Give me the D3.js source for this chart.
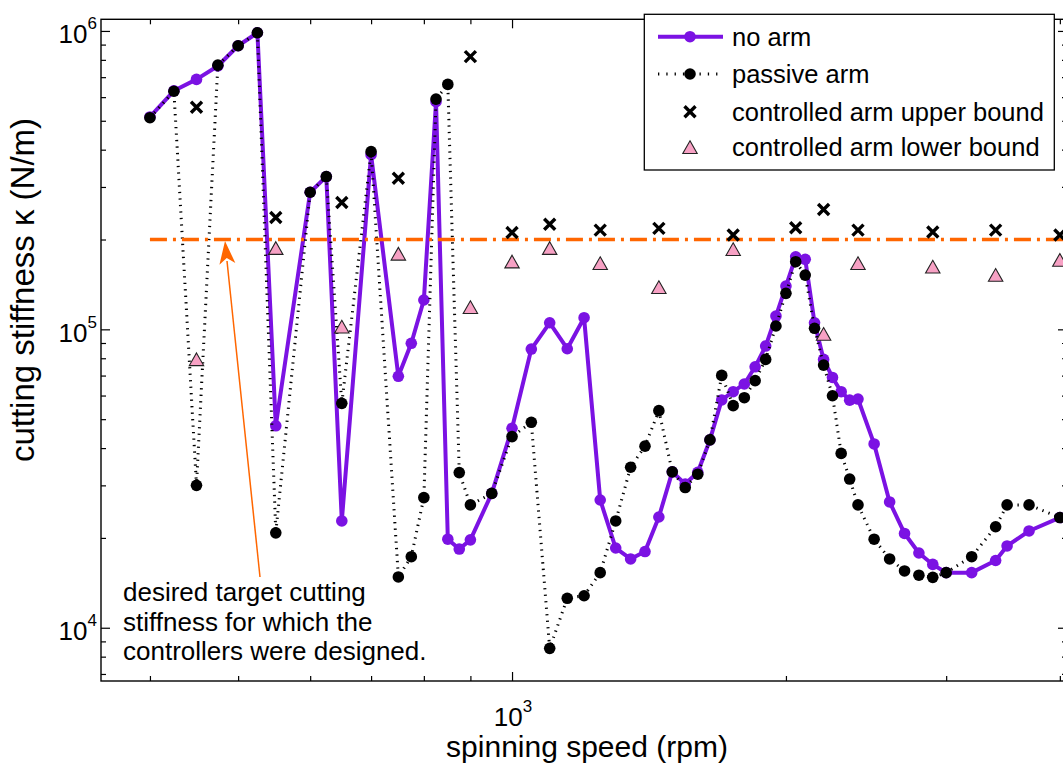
<!DOCTYPE html>
<html><head><meta charset="utf-8">
<script src="https://cdn.jsdelivr.net/npm/d3@7/dist/d3.min.js"></script>
<style>
body{margin:0;background:#fff}
svg{display:block}
text{font-family:"Liberation Sans",Arial,Helvetica,sans-serif;fill:#000}
</style>
</head><body>
<svg id="chart" width="1063" height="763"></svg>
<script>
// ---------------- data ----------------
const speeds = [400,425,450,475,500,525,550,600,625,650,700,750,775,800,825,850,875,900,950,
  1000,1050,1100,1150,1200,1250,1300,1350,1400,1450,1500,1550,1600,1650,1700,1750,1800,1850,1900,1950,
  2000,2050,2100,2150,2200,2250,2300,2350,2400,2500,2600,2700,2800,2900,3000,3200,3400,3500,3700,4000];
const noArm = [515000,630000,688000,763000,892000,986000,47500,288000,325000,22800,385000,69600,89800,125400,579000,19800,18350,19700,28200,
  46600,85900,105200,86100,109400,26800,18500,17000,18000,23500,33300,30300,33200,42600,58000,61800,65600,74900,87900,110800,
  139700,175000,171700,105200,79300,69000,61800,57900,58400,41300,26400,20700,17800,16300,15300,15300,16800,18800,21100,23400];
const passiveArm = [512000,628000,30000,768000,892000,986000,20800,288000,325000,56500,394000,14800,17300,27300,591000,662000,33100,25800,28200,
  43700,48800,8530,12550,12800,15300,22800,34500,40600,53400,33300,29500,32700,42600,70100,55500,59000,67300,79300,102600,
  132000,168500,152000,100800,75900,59900,38400,31500,25800,19800,17000,15500,15000,14750,15300,17300,21800,25800,25800,23400];
const upperSpeeds = [450,550,650,750,900,1000,1100,1250,1450,1750,2050,2200,2400,2900,3400,4000];
const upperBound = [555000,237000,266000,321000,820000,211000,225000,215000,218000,207000,219000,252000,215000,212000,215000,207000];
const lowerSpeeds = [450,550,650,750,900,1000,1100,1250,1450,1750,2200,2400,2900,3400,4000];
const lowerBound = [79300,187000,102000,179000,118500,168500,187000,166400,138300,185400,96400,166400,162100,152000,170700];
const targetStiffness = 200000;
const targetSpan = [400, 4073];
const xDomain = [353.4, 4073];
const yDomain = [6630, 1.094e6];
const xMajorTicks = [1000];
const xMinorTicks = [400,500,600,700,800,900,2000,3000,4000];
const yMajorTicks = [1e4,1e5,1e6];
const yMinorTicks = [7000,8000,9000,2e4,3e4,4e4,5e4,6e4,7e4,8e4,9e4,2e5,3e5,4e5,5e5,6e5,7e5,8e5,9e5];
const xTickBase = ["10"], xTickExp = ["3"];
const yTickBase = ["10","10","10"], yTickExp = ["4","5","6"];
const legendLabels = ["no arm","passive arm","controlled arm upper bound","controlled arm lower bound"];
const annotationLines = ["desired target cutting","stiffness for which the","controllers were designed."];
const xLabel = "spinning speed (rpm)";
const yLabel = "cutting stiffness \u03BA (N/m)";

// ---------------- layout ----------------
const L = 101, R = 1067, T = 19.3, B = 681;
const purple = "#7b12e3", orange = "#ff6600", pink = "#f7a1c4";

const svg = d3.select("#chart");
const x = d3.scaleLog().domain(xDomain).range([L, R]);
const y = d3.scaleLog().domain(yDomain).range([B, T]);

// axes ticks (inward) on four sides
function ax(gen, tr, vals, size){
  const g = svg.append("g").attr("transform", tr)
    .call(gen.tickValues(vals).tickSize(size).tickFormat(""));
  g.select(".domain").remove();
  g.selectAll(".tick line").attr("stroke","#000").attr("stroke-width",1.2);
}
ax(d3.axisBottom(x), `translate(0,${B})`, xMinorTicks, -5);
ax(d3.axisBottom(x), `translate(0,${B})`, xMajorTicks, -9);
ax(d3.axisTop(x), `translate(0,${T})`, xMinorTicks, -5);
ax(d3.axisTop(x), `translate(0,${T})`, xMajorTicks, -9);
ax(d3.axisLeft(y), `translate(${L},0)`, yMinorTicks, -5);
ax(d3.axisLeft(y), `translate(${L},0)`, yMajorTicks, -9);
ax(d3.axisRight(y), `translate(${R},0)`, yMinorTicks, -5);
ax(d3.axisRight(y), `translate(${R},0)`, yMajorTicks, -9);
svg.append("rect").attr("x",L).attr("y",T).attr("width",R-L).attr("height",B-T)
  .attr("fill","none").attr("stroke","#000").attr("stroke-width",1.4);

// tick labels
xMajorTicks.forEach((v,i)=>{
  const t = svg.append("text").attr("x", x(v)+1).attr("y", 726).attr("text-anchor","middle").attr("font-size",26);
  t.append("tspan").text(xTickBase[i]);
  t.append("tspan").attr("dy",-14).attr("font-size",17).text(xTickExp[i]);
});
yMajorTicks.forEach((v,i)=>{
  const t = svg.append("text").attr("x", 97).attr("y", y(v)+12.5).attr("text-anchor","end").attr("font-size",26);
  t.append("tspan").text(yTickBase[i]);
  t.append("tspan").attr("dy",-14).attr("font-size",17).text(yTickExp[i]);
});

// axis labels
svg.append("text").attr("x", 587).attr("y", 757).attr("text-anchor","middle").attr("font-size",30).text(xLabel);
svg.append("text").attr("transform","translate(34,290) rotate(-90)").attr("text-anchor","middle").attr("font-size",33).text(yLabel);

const plot = svg.append("g");

// no arm
const lineGen = d3.line().x(d=>x(d[0])).y(d=>y(d[1]));
const noArmPts = speeds.map((s,i)=>[s,noArm[i]]);
const passPts = speeds.map((s,i)=>[s,passiveArm[i]]);
plot.append("path").attr("d", lineGen(noArmPts)).attr("fill","none").attr("stroke",purple).attr("stroke-width",4).attr("stroke-linejoin","round");
plot.selectAll(".na").data(noArmPts).enter().append("circle").attr("cx",d=>x(d[0])).attr("cy",d=>y(d[1])).attr("r",5.8).attr("fill",purple);

// passive arm
plot.append("path").attr("d", lineGen(passPts)).attr("fill","none").attr("stroke","#000").attr("stroke-width",3).attr("stroke-dasharray","1.3,5.2");
plot.selectAll(".pa").data(passPts).enter().append("circle").attr("cx",d=>x(d[0])).attr("cy",d=>y(d[1])).attr("r",5.8).attr("fill","#000");

// target line
plot.append("line").attr("x1",x(targetSpan[0])).attr("x2",x(targetSpan[1])).attr("y1",y(targetStiffness)).attr("y2",y(targetStiffness))
  .attr("stroke",orange).attr("stroke-width",3.6).attr("stroke-dasharray","17,6,3,6");

// annotation arrow
const tipX = 225, tipY = y(targetStiffness)+1.5, tailX = 260, tailY = 577;
plot.append("line").attr("x1",tailX).attr("y1",tailY).attr("x2",tipX+2).attr("y2",tipY+20).attr("stroke",orange).attr("stroke-width",1.5);
{
  const ang = Math.atan2(tailY-tipY, tailX-tipX);
  const len = 23, hw = 8;
  const bx = tipX + len*Math.cos(ang), by = tipY + len*Math.sin(ang);
  const px = -Math.sin(ang), py = Math.cos(ang);
  const nx = tipX + (len-6)*Math.cos(ang), ny = tipY + (len-6)*Math.sin(ang);
  plot.append("path").attr("d",`M${tipX},${tipY}L${bx+hw*px},${by+hw*py}L${nx},${ny}L${bx-hw*px},${by-hw*py}Z`).attr("fill",orange);
}
annotationLines.forEach((s,i)=>{
  svg.append("text").attr("x",123).attr("y",601+i*29.5).attr("font-size",26).text(s);
});

// bounds markers
const xPath = "M-5.5,-5.5L5.5,5.5M-5.5,5.5L5.5,-5.5";
const triPath = "M0,-6.5L7.2,6.2L-7.2,6.2Z";
plot.selectAll(".ub").data(upperSpeeds.map((s,i)=>[s,upperBound[i]])).enter().append("path")
  .attr("transform",d=>`translate(${x(d[0])},${y(d[1])})`).attr("d",xPath).attr("stroke","#000").attr("stroke-width",3.4).attr("fill","none");
plot.selectAll(".lb").data(lowerSpeeds.map((s,i)=>[s,lowerBound[i]])).enter().append("path")
  .attr("transform",d=>`translate(${x(d[0])},${y(d[1])})`).attr("d",triPath).attr("fill",pink).attr("stroke","#222").attr("stroke-width",1.1);

// legend
const lg = svg.append("g");
lg.append("rect").attr("x",644.3).attr("y",14.3).attr("width",410).attr("height",155.7).attr("fill","#fff").attr("stroke","#000").attr("stroke-width",1.3);
const rows = [36.7, 74, 111.7, 147.3];
lg.append("line").attr("x1",658).attr("x2",723).attr("y1",rows[0]).attr("y2",rows[0]).attr("stroke",purple).attr("stroke-width",4);
lg.append("circle").attr("cx",690).attr("cy",rows[0]).attr("r",5.8).attr("fill",purple);
lg.append("line").attr("x1",658).attr("x2",723).attr("y1",rows[1]).attr("y2",rows[1]).attr("stroke","#000").attr("stroke-width",3).attr("stroke-dasharray","1.3,7");
lg.append("circle").attr("cx",690).attr("cy",rows[1]).attr("r",5.8).attr("fill","#000");
lg.append("path").attr("transform",`translate(690,${rows[2]})`).attr("d",xPath).attr("stroke","#000").attr("stroke-width",3.4);
lg.append("path").attr("transform",`translate(690,${rows[3]})`).attr("d",triPath).attr("fill",pink).attr("stroke","#222").attr("stroke-width",1.1);
legendLabels.forEach((s,i)=>{
  lg.append("text").attr("x",732).attr("y",rows[i]+9).attr("font-size",25.5).text(s);
});
</script>
</body></html>
